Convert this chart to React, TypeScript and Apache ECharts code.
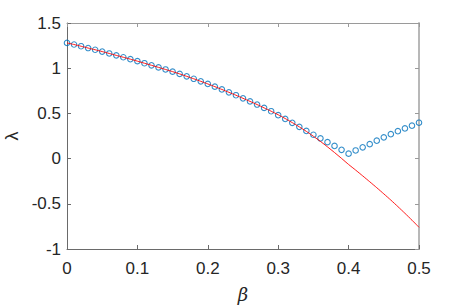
import React, { useEffect, useRef } from "react";
import * as echarts from "echarts";

const beta = [
  0, 0.01, 0.02, 0.03, 0.04, 0.05, 0.06, 0.07, 0.08, 0.09,
  0.1, 0.11, 0.12, 0.13, 0.14, 0.15, 0.16, 0.17, 0.18, 0.19,
  0.2, 0.21, 0.22, 0.23, 0.24, 0.25, 0.26, 0.27, 0.28, 0.29,
  0.3, 0.31, 0.32, 0.33, 0.34, 0.35, 0.36, 0.37, 0.38, 0.39,
  0.4, 0.41, 0.42, 0.43, 0.44, 0.45, 0.46, 0.47, 0.48, 0.49, 0.5,
];

const lambdaTheory = [
  1.28, 1.262, 1.243, 1.223, 1.204, 1.184, 1.163, 1.142, 1.121, 1.1,
  1.078, 1.055, 1.032, 1.009, 0.986, 0.962, 0.937, 0.91, 0.883, 0.855,
  0.826, 0.796, 0.765, 0.733, 0.701, 0.667, 0.633, 0.598, 0.561, 0.524,
  0.485, 0.443, 0.398, 0.351, 0.301, 0.247, 0.19, 0.13, 0.067, 0.002,
  -0.065, -0.127, -0.191, -0.256, -0.322, -0.39, -0.459, -0.531, -0.605, -0.681, -0.76,
];

const lambdaNumeric = [
  1.28, 1.262, 1.243, 1.223, 1.204, 1.184, 1.163, 1.142, 1.121, 1.1,
  1.078, 1.055, 1.032, 1.009, 0.986, 0.962, 0.937, 0.91, 0.883, 0.855,
  0.826, 0.796, 0.765, 0.733, 0.701, 0.667, 0.633, 0.598, 0.561, 0.524,
  0.48, 0.439, 0.396, 0.351, 0.306, 0.264, 0.224, 0.182, 0.14, 0.097,
  0.055, 0.09, 0.125, 0.16, 0.198, 0.235, 0.27, 0.303, 0.334, 0.364, 0.397,
];

const xTicks = { min: 0, max: 0.5, interval: 0.1 };
const yTicks = { min: -1, max: 1.5, interval: 0.5 };

const FONT = "'Liberation Sans', Arial, Helvetica, sans-serif";

export default function App() {
  const ref = useRef<HTMLDivElement>(null);
  useEffect(() => {
    if (!ref.current) return;
    const chart = echarts.init(ref.current, undefined, { renderer: "svg" });
    const axisText = { color: "#262626", fontSize: 17, fontFamily: FONT };
    const baseX = {
      type: "value",
      min: xTicks.min,
      max: xTicks.max,
      interval: xTicks.interval,
      splitLine: { show: false },
    };
    const baseY = {
      type: "value",
      min: yTicks.min,
      max: yTicks.max,
      interval: yTicks.interval,
      splitLine: { show: false },
    };
    chart.setOption({
      animation: false,
      backgroundColor: "#ffffff",
      grid: {
        left: 67,
        right: 44,
        top: 23,
        bottom: 58,
        containLabel: false,
        outerBoundsMode: "none",
      },
      xAxis: [
        {
          ...baseX,
          position: "bottom",
          name: "β",
          nameLocation: "middle",
          nameGap: 36,
          nameTextStyle: {
            color: "#262626",
            fontSize: 18,
            fontStyle: "italic",
            fontFamily: "'DejaVu Serif', 'Liberation Serif', serif",
          },
          axisLine: { onZero: false, lineStyle: { color: "#6a6a6a", width: 1 } },
          axisTick: { inside: true, length: 4, lineStyle: { color: "#6a6a6a" } },
          axisLabel: {
            ...axisText,
            margin: 11,
            formatter: (v: number) => String(Math.round(v * 10) / 10),
          },
        },
        {
          ...baseX,
          position: "top",
          axisLine: { onZero: false, lineStyle: { color: "#9a9a9a", width: 1 } },
          axisTick: { inside: true, length: 4, lineStyle: { color: "#9a9a9a" } },
          axisLabel: { show: false },
        },
      ],
      yAxis: [
        {
          ...baseY,
          position: "left",
          name: "λ",
          nameLocation: "middle",
          nameRotate: 90,
          nameGap: 46,
          nameTextStyle: { color: "#262626", fontSize: 18, fontFamily: FONT },
          axisLine: { onZero: false, lineStyle: { color: "#6a6a6a", width: 1 } },
          axisTick: { inside: true, length: 4, lineStyle: { color: "#6a6a6a" } },
          axisLabel: {
            ...axisText,
            margin: 6,
            formatter: (v: number) => String(Math.round(v * 10) / 10),
          },
        },
        {
          ...baseY,
          position: "right",
          axisLine: { onZero: false, lineStyle: { color: "#b8b8b8", width: 2 } },
          axisTick: { inside: true, length: 4, lineStyle: { color: "#9a9a9a" } },
          axisLabel: { show: false },
        },
      ],
      series: [
        {
          type: "scatter",
          xAxisIndex: 0,
          yAxisIndex: 0,
          data: beta.map((b, i) => [b, lambdaNumeric[i]]),
          symbol: "circle",
          symbolSize: 5.5,
          itemStyle: { color: "rgba(0,0,0,0)", borderColor: "#0072BD", borderWidth: 1.1 },
          z: 2,
        },
        {
          type: "line",
          xAxisIndex: 0,
          yAxisIndex: 0,
          data: beta.map((b, i) => [b, lambdaTheory[i]]),
          showSymbol: false,
          symbol: "none",
          smooth: 0.2,
          lineStyle: { color: "#ff0000", width: 0.9 },
          z: 3,
        },
      ],
    });
    return () => chart.dispose();
  }, []);
  return (
    <div
      ref={ref}
      style={{ position: "fixed", left: 0, top: 0, width: 463, height: 307 }}
    />
  );
}
